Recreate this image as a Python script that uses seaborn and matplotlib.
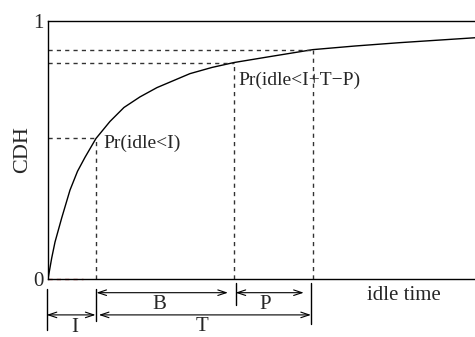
import matplotlib
matplotlib.use("Agg")
import matplotlib.pyplot as plt
import seaborn as sns
import pandas as pd

# ---- data ----
idle_x = [0, 0.077, 0.146, 0.285, 0.458, 0.615, 0.771, 1.0, 1.292, 1.583, 1.917,
          2.271, 2.958, 3.417, 3.875, 4.625, 5.52, 6.396, 7.333, 8.9]
cdh_y = [0, 0.081, 0.143, 0.236, 0.344, 0.417, 0.471, 0.544, 0.610, 0.664, 0.705,
         0.741, 0.795, 0.819, 0.838, 0.861, 0.888, 0.902, 0.915, 0.934]
mark_x = [1.0, 3.875, 5.52]        # I, I+T-P, I+T
mark_y = [0.544, 0.838, 0.888]     # CDH at those points
mark_labels = ["Pr(idle<I)", "Pr(idle<I+T\u2212P)", None]
y_ticks = [0, 1]
y_ticklabels = ["0", "1"]
x_label = "idle time"
y_label = "CDH"

sns.set_style("white")
plt.rcParams["font.family"] = ["Liberation Serif", "DejaVu Serif"]

fig = plt.figure(figsize=(4.75, 3.37), dpi=100)
ax = fig.add_axes([48 / 475, 58 / 337, 427 / 475, 258.3 / 337])

df = pd.DataFrame({"idle": idle_x, "cdh": cdh_y})
sns.lineplot(data=df, x="idle", y="cdh", color="black", lw=1.0, ax=ax)

dash = dict(color="#333333", lw=1.0, ls=(0, (3, 3)))
for mx, my in zip(mark_x, mark_y):
    ax.plot([0, mx], [my, my], **dash)
    ax.plot([mx, mx], [0, my], **dash)

# faint red dashed segment at origin
ax.plot([0, 0.72], [0, 0], color="#c04040", lw=1.0, ls=(0, (3, 3)), clip_on=False, zorder=1)

ax.text(1.146, 0.525, mark_labels[0], fontsize=14, ha="left", va="center")
ax.text(3.96, 0.768, mark_labels[1], fontsize=14, ha="left", va="center")

ax.set_xlim(0, 8.9)
ax.set_ylim(0, 1)
ax.set_xticks([])
ax.set_yticks(y_ticks)
ax.set_yticklabels(y_ticklabels, fontsize=15)
ax.tick_params(axis="y", length=0, pad=3)
ax.set_xlabel("")
ax.set_ylabel(y_label, fontsize=16, labelpad=1)
for s in ["left", "top", "bottom"]:
    ax.spines[s].set_color("black")
    ax.spines[s].set_linewidth(1.0)
ax.spines["right"].set_visible(False)

# ---- annotation brackets below the axis ----
def vtick(x, y0, y1):
    ax.plot([x, x], [y0, y1], color="black", lw=1.0, clip_on=False)

def harrow(x0, x1, y):
    ax.annotate("", xy=(x1, y), xytext=(x0, y), xycoords="data",
                annotation_clip=False,
                arrowprops=dict(arrowstyle="<->,head_length=0.6,head_width=0.2",
                                color="black", lw=0.8, shrinkA=0, shrinkB=0))

vtick(-0.027, -0.039, -0.197)
vtick(1.01, -0.039, -0.162)
vtick(3.91, -0.015, -0.100)
vtick(5.48, -0.015, -0.174)

harrow(1.01, 3.75, -0.053)
harrow(3.91, 5.33, -0.053)
harrow(-0.027, 0.99, -0.139)
harrow(1.06, 5.48, -0.139)

ax.text(2.33, -0.100, "B", fontsize=15, ha="center", va="center", clip_on=False)
ax.text(4.52, -0.100, "P", fontsize=15, ha="center", va="center", clip_on=False)
ax.text(0.5625, -0.189, "I", fontsize=15, ha="center", va="center", clip_on=False)
ax.text(3.21, -0.185, "T", fontsize=15, ha="center", va="center", clip_on=False)
ax.text(7.42, -0.062, x_label, fontsize=15, ha="center", va="center", clip_on=False)

fig.savefig("out.png", dpi=100)
